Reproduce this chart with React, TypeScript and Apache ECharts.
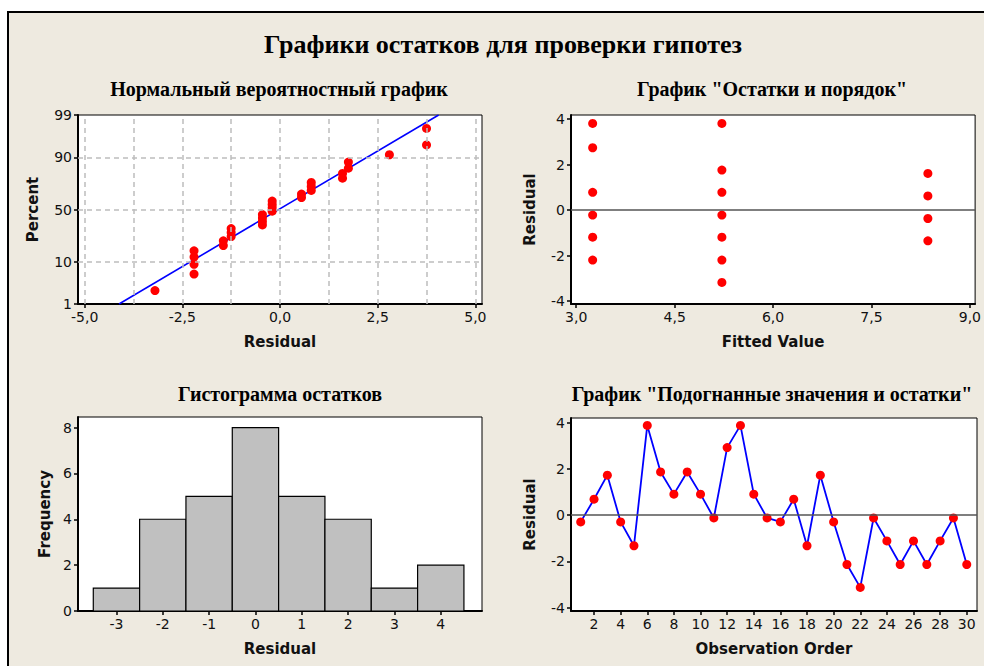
import React, { useEffect, useRef } from 'react';
import * as echarts from 'echarts';

const mainTitle = 'Графики остатков для проверки гипотез';
const panelTitles = [
  'Нормальный вероятностный график',
  'График "Остатки и порядок"',
  'Гистограмма остатков',
  'График "Подогнанные значения и остатки"',
];

// Panel 1: normal probability plot
const probResiduals = [
  -3.2, -2.2, -2.2, -2.2, -2.2, -1.45, -1.45, -1.25, -1.25, -1.25,
  -0.45, -0.45, -0.45, -0.45, -0.2, -0.2, -0.2, -0.2, 0.55, 0.55,
  0.8, 0.8, 0.8, 1.6, 1.6, 1.75, 1.75, 2.8, 3.75, 3.75,
];
const probPercents = [
  2.3, 5.59, 8.88, 12.17, 15.46, 18.75, 22.04, 25.33, 28.62, 31.91,
  35.2, 38.49, 41.78, 45.07, 48.36, 51.64, 54.93, 58.22, 61.51, 64.8,
  68.09, 71.38, 74.67, 77.96, 81.25, 84.54, 87.83, 91.12, 94.41, 97.7,
];
const probFitResidual = [-4.12, 4.06];
const probFitPercent = [1, 99];
const probPercentTicks = [1, 10, 50, 90, 99];
const probResidualTicks = [-5, -2.5, 0, 2.5, 5];
const probResidualGrid = [-5, -3.75, -2.5, -1.25, 0, 1.25, 2.5, 3.75, 5];

// Panel 2: residuals vs fitted values
const fittedValues = [
  3.25, 3.25, 3.25, 3.25, 3.25, 3.25,
  5.22, 5.22, 5.22, 5.22, 5.22, 5.22, 5.22,
  8.36, 8.36, 8.36, 8.36,
];
const fittedResiduals = [
  3.81, 2.74, 0.78, -0.22, -1.19, -2.2,
  3.81, 1.76, 0.78, -0.22, -1.19, -2.2, -3.18,
  1.61, 0.62, -0.37, -1.35,
];
const fittedTicks = [3, 4.5, 6, 7.5, 9];
const residualTicks = [-4, -2, 0, 2, 4];

// Panel 3: histogram
const histCenters = [-3, -2, -1, 0, 1, 2, 3, 4];
const histCounts = [1, 4, 5, 8, 5, 4, 1, 2];
const histBinWidth = 1;
const freqTicks = [0, 2, 4, 6, 8];

// Panel 4: residuals vs observation order
const observationOrder = [
  1, 2, 3, 4, 5, 6, 7, 8, 9, 10, 11, 12, 13, 14, 15,
  16, 17, 18, 19, 20, 21, 22, 23, 24, 25, 26, 27, 28, 29, 30,
];
const orderResiduals = [
  -0.29, 0.69, 1.73, -0.29, -1.32, 3.88, 1.87, 0.91, 1.87, 0.91,
  -0.12, 2.92, 3.88, 0.91, -0.12, -0.29, 0.69, -1.32, 1.73, -0.29,
  -2.13, -3.12, -0.12, -1.11, -2.13, -1.11, -2.13, -1.11, -0.12, -2.13,
];
const orderTicks = [2, 4, 6, 8, 10, 12, 14, 16, 18, 20, 22, 24, 26, 28, 30];

// inverse standard normal CDF (Acklam) — the probability-axis transform
function probit(p: number): number {
  const a = [-3.969683028665376e1, 2.209460984245205e2, -2.759285104469687e2, 1.38357751867269e2, -3.066479806614716e1, 2.506628277459239];
  const b = [-5.447609879822406e1, 1.615858368580409e2, -1.556989798598866e2, 6.680131188771972e1, -1.328068155288572e1];
  const c = [-7.784894002430293e-3, -3.223964580411365e-1, -2.400758277161838, -2.549732539343734, 4.374664141464968, 2.938163982698783];
  const d = [7.784695709041462e-3, 3.224671290700398e-1, 2.445134137142996, 3.754408661907416];
  const pl = 0.02425;
  if (p < pl) {
    const q = Math.sqrt(-2 * Math.log(p));
    return (((((c[0] * q + c[1]) * q + c[2]) * q + c[3]) * q + c[4]) * q + c[5]) / ((((d[0] * q + d[1]) * q + d[2]) * q + d[3]) * q + 1);
  }
  if (p <= 1 - pl) {
    const q = p - 0.5;
    const r = q * q;
    return ((((((a[0] * r + a[1]) * r + a[2]) * r + a[3]) * r + a[4]) * r + a[5]) * q) / (((((b[0] * r + b[1]) * r + b[2]) * r + b[3]) * r + b[4]) * r + 1);
  }
  const q = Math.sqrt(-2 * Math.log(1 - p));
  return -(((((c[0] * q + c[1]) * q + c[2]) * q + c[3]) * q + c[4]) * q + c[5]) / ((((d[0] * q + d[1]) * q + d[2]) * q + d[3]) * q + 1);
}
const z = (pct: number) => probit(pct / 100);

const TICK_FONT = { fontFamily: '"DejaVu Sans"', fontSize: 14, color: '#111' };
const NAME_FONT = { fontFamily: '"DejaVu Sans"', fontSize: 15, fontWeight: 'bold' as const, color: '#111' };
const TITLE_FONT_FAMILY = '"Liberation Serif", "Times New Roman", serif';
const comma1 = (v: number) => v.toFixed(1).replace('.', ',');

function makeAxis(
  dim: 'x' | 'y',
  gridIndex: number,
  min: number,
  max: number,
  ticks: number[],
  formatter: (v: number) => string,
  name: string,
  nameGap: number,
) {
  return {
    type: 'value',
    gridIndex,
    min,
    max,
    name,
    nameLocation: 'middle',
    nameGap,
    nameRotate: dim === 'y' ? 90 : 0,
    nameTextStyle: NAME_FONT,
    axisLine: { show: true, onZero: false, lineStyle: { color: '#000', width: 2 } },
    axisTick: { show: true, inside: false, length: 4, customValues: ticks, lineStyle: { color: '#000', width: 1.5 } },
    axisLabel: { show: true, customValues: ticks, formatter, margin: 6, ...TICK_FONT },
    splitLine: { show: false },
  };
}

const gridBox = { show: true, backgroundColor: '#fff', borderColor: '#000', borderWidth: 1, containLabel: false };

function titleText(text: string, x: number, y: number, size: number) {
  return {
    type: 'text', x, y,
    style: {
      text, fill: '#000', font: `bold ${size}px ${TITLE_FONT_FAMILY}`,
      textAlign: 'center', textVerticalAlign: 'middle', align: 'center', verticalAlign: 'middle',
    },
  };
}

export default function App() {
  const ref = useRef<HTMLDivElement>(null);
  useEffect(() => {
    if (!ref.current) return;
    const chart = echarts.init(ref.current, undefined, { renderer: 'svg' });

    const pctLabel = (v: number) => {
      const p = probPercentTicks.find((t) => Math.abs(z(t) - v) < 1e-6);
      return p === undefined ? '' : String(p);
    };

    const zeroLine = {
      silent: true,
      symbol: ['none', 'none'],
      label: { show: false },
      lineStyle: { color: '#555', width: 1.5, type: 'solid' },
      data: [{ yAxis: 0 }],
    };

    const dot = { color: '#FF0000', opacity: 1 };

    const option: any = {
      animation: false,
      backgroundColor: '#EEEAE0',
      graphic: {
        elements: [
          { type: 'rect', shape: { x: 0, y: 0, width: 984, height: 11 }, style: { fill: '#fff' } },
          { type: 'rect', shape: { x: 0, y: 0, width: 7, height: 666 }, style: { fill: '#fff' } },
          { type: 'line', shape: { x1: 7, y1: 12, x2: 984, y2: 12 }, style: { stroke: '#000', lineWidth: 2 } },
          { type: 'line', shape: { x1: 8, y1: 11, x2: 8, y2: 666 }, style: { stroke: '#000', lineWidth: 2 } },
          titleText(mainTitle, 503, 44, 26),
          titleText(panelTitles[0], 279, 89, 20),
          titleText(panelTitles[1], 772, 89, 20),
          titleText(panelTitles[2], 280, 394, 20),
          titleText(panelTitles[3], 772, 394, 20),
        ],
      },
      grid: [
        { left: 78, top: 115, width: 404, height: 189, ...gridBox },
        { left: 571, top: 115, width: 406, height: 189, ...gridBox },
        { left: 78, top: 417, width: 404, height: 194, ...gridBox },
        { left: 571, top: 418, width: 406, height: 193, ...gridBox },
      ],
      xAxis: [
        makeAxis('x', 0, -5.17, 5.17, probResidualTicks, comma1, 'Residual', 30),
        makeAxis('x', 1, 2.92, 9.08, fittedTicks, comma1, 'Fitted Value', 30),
        makeAxis('x', 2, -3.83, 4.89, histCenters, (v) => String(v), 'Residual', 30),
        makeAxis('x', 3, 0.27, 30.77, orderTicks, (v) => String(v), 'Observation Order', 30),
      ],
      yAxis: [
        makeAxis('y', 0, z(probPercentTicks[0]), z(probPercentTicks[probPercentTicks.length - 1]), probPercentTicks.map(z), pctLabel, 'Percent', 38),
        makeAxis('y', 1, -4.13, 4.18, residualTicks, (v) => String(v), 'Residual', 34),
        makeAxis('y', 2, 0, 8.46, freqTicks, (v) => String(v), 'Frequency', 26),
        makeAxis('y', 3, -4.14, 4.2, residualTicks, (v) => String(v), 'Residual', 34),
      ],
      series: [
        {
          type: 'line', xAxisIndex: 0, yAxisIndex: 0, data: [], z: 1,
          markLine: {
            silent: true,
            symbol: ['none', 'none'],
            label: { show: false },
            lineStyle: { color: '#BDBDBD', width: 1.5, type: [5, 4] },
            data: [
              ...probResidualGrid.map((v) => ({ xAxis: v })),
              ...probPercentTicks.filter((p) => p > 1 && p < 99).map((p) => ({ yAxis: z(p) })),
            ],
          },
        },
        {
          type: 'line', xAxisIndex: 0, yAxisIndex: 0, z: 2,
          data: probFitResidual.map((x, i) => [x, z(probFitPercent[i])]),
          symbol: 'none',
          lineStyle: { color: '#0000FF', width: 1.6 },
        },
        {
          type: 'scatter', xAxisIndex: 0, yAxisIndex: 0, z: 3,
          data: probResiduals.map((x, i) => [x, z(probPercents[i])]),
          symbolSize: 9,
          itemStyle: dot,
        },
        { type: 'line', xAxisIndex: 1, yAxisIndex: 1, data: [], z: 1, markLine: zeroLine },
        {
          type: 'scatter', xAxisIndex: 1, yAxisIndex: 1, z: 3,
          data: fittedValues.map((x, i) => [x, fittedResiduals[i]]),
          symbolSize: 9,
          itemStyle: dot,
        },
        {
          type: 'custom', xAxisIndex: 2, yAxisIndex: 2, z: 2,
          data: histCenters.map((c, i) => [c, histCounts[i]]),
          renderItem: (params: any, api: any) => {
            const c = api.value(0);
            const n = api.value(1);
            const p0 = api.coord([c - histBinWidth / 2, n]);
            const p1 = api.coord([c + histBinWidth / 2, 0]);
            return {
              type: 'rect',
              shape: { x: p0[0], y: p0[1], width: p1[0] - p0[0], height: p1[1] - p0[1] },
              style: { fill: '#C0C0C0', stroke: '#000', lineWidth: 1.2 },
            };
          },
        },
        { type: 'line', xAxisIndex: 3, yAxisIndex: 3, data: [], z: 1, markLine: zeroLine },
        {
          type: 'line', xAxisIndex: 3, yAxisIndex: 3, z: 3,
          data: observationOrder.map((x, i) => [x, orderResiduals[i]]),
          symbol: 'circle',
          symbolSize: 9,
          showAllSymbol: true,
          itemStyle: dot,
          lineStyle: { color: '#0000FF', width: 1.8 },
        },
      ],
    };
    chart.setOption(option);
    return () => chart.dispose();
  }, []);
  return <div ref={ref} style={{ position: 'absolute', left: 0, top: 0, width: 984, height: 666 }} />;
}
